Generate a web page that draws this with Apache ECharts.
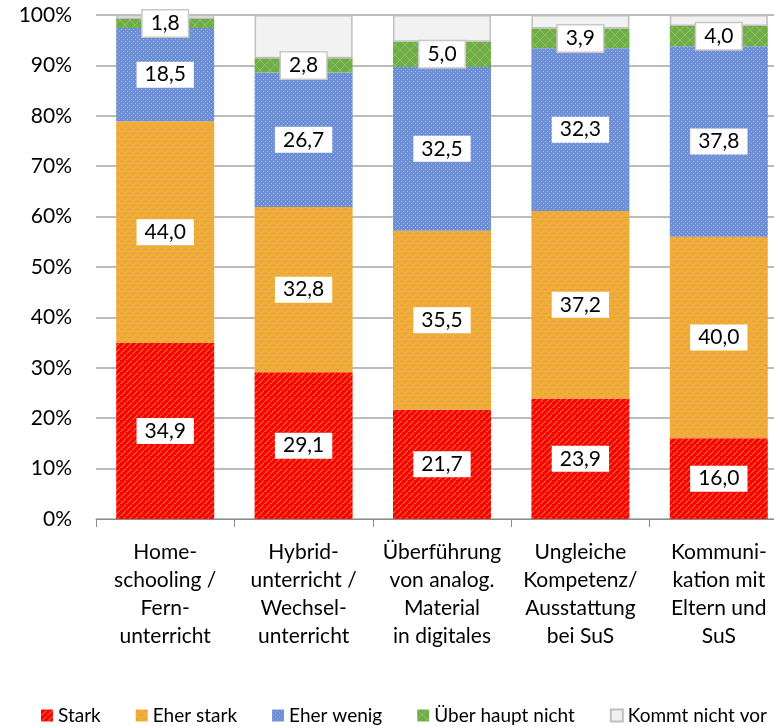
<!DOCTYPE html>
<html>
<head>
<meta charset="utf-8">
<script src="https://cdn.jsdelivr.net/npm/echarts@6/dist/echarts.min.js"></script>
<style>
  html, body { margin: 0; padding: 0; background: #fff; }
  #chart { width: 774px; height: 726px; }
</style>
</head>
<body>
<div id="chart"></div>
<script>
// Kategorien und Werte (in %)
const categories = [
  'Home-\nschooling /\nFern-\nunterricht',
  'Hybrid-\nunterricht /\nWechsel-\nunterricht',
  'Überführung\nvon analog.\nMaterial\nin digitales',
  'Ungleiche\nKompetenz/\nAusstattung\nbei SuS',
  'Kommuni-\nkation mit\nEltern und\nSuS'
];
const seriesNames = ['Stark', 'Eher stark', 'Eher wenig', 'Über haupt nicht', 'Kommt nicht vor'];
const stark = [34.9, 29.1, 21.7, 23.9, 16.0];
const eherStark = [44.0, 32.8, 35.5, 37.2, 40.0];
const eherWenig = [18.5, 26.7, 32.5, 32.3, 37.8];
const ueberhauptNicht = [1.8, 2.8, 5.0, 3.9, 4.0];
const kommtNichtVor = [0.8, 8.6, 5.3, 2.7, 2.2];
const yTicks = [0, 10, 20, 30, 40, 50, 60, 70, 80, 90, 100];

const FONT = 'Lato, "Open Sans", sans-serif';

// kleine Muster-Kacheln wie in Excel
function makePattern(size, draw) {
  const c = document.createElement('canvas');
  c.width = size; c.height = size;
  draw(c.getContext('2d'), size);
  return { image: c, repeat: 'repeat' };
}

const redPattern = makePattern(6, (g, s) => {
  g.fillStyle = '#ff0000';
  g.fillRect(0, 0, s, s);
  g.fillStyle = '#e8502a';
  for (let i = 0; i < s; i++) {
    g.fillRect(i, s - 1 - i, 2, 1);
  }
});
const orangePattern = makePattern(8, (g, s) => {
  g.fillStyle = '#eeb034';
  g.fillRect(0, 0, s, s);
  g.fillStyle = '#f28c62';
  g.fillRect(0, 1, 3, 1);
  g.fillRect(4, 5, 3, 1);
});
const bluePattern = makePattern(4, (g, s) => {
  g.fillStyle = '#6f8fd4';
  g.fillRect(0, 0, s, s);
  g.fillStyle = '#aab2c8';
  g.fillRect(1, 1, 1, 1);
  g.fillRect(3, 3, 1, 1);
});
const greenPattern = makePattern(10, (g, s) => {
  g.fillStyle = '#70ad47';
  g.fillRect(0, 0, s, s);
  g.fillStyle = '#8cc16a';
  for (let i = 0; i < s; i++) {
    g.fillRect(i, i, 1, 1);
    g.fillRect(i, s - 1 - i, 1, 1);
  }
});

const seriesData = [stark, eherStark, eherWenig, ueberhauptNicht, kommtNichtVor];
const fills = [redPattern, orangePattern, bluePattern, greenPattern, '#f2f2f2'];

const series = seriesData.map((vals, i) => ({
  name: seriesNames[i],
  type: 'bar',
  stack: 'total',
  barWidth: 98,
  data: vals,
  itemStyle: i === 4
    ? { color: fills[i], borderColor: '#bfbfbf', borderWidth: 1.5 }
    : { color: fills[i] },
  label: {
    show: i < 4,
    position: 'inside',
    formatter: p => p.value.toFixed(1).replace('.', ','),
    color: '#000',
    fontFamily: FONT,
    fontSize: 21,
    backgroundColor: '#fff',
    borderColor: i === 3 ? '#c8c8c8' : 'transparent',
    borderWidth: i === 3 ? 1.5 : 0,
    padding: [4, 8, 1, 8]
  },
  emphasis: { disabled: true }
}));

const chart = echarts.init(document.getElementById('chart'));
chart.setOption({
  animation: false,
  // Plotbereich ragt rechts über das Bild hinaus (wie im Original)
  grid: { left: 96, width: 692, top: 15, bottom: 207, containLabel: false, outerBoundsMode: 'none' },
  legend: {
    data: seriesNames,
    left: 36,
    top: 701,
    itemWidth: 12,
    itemHeight: 12,
    itemGap: 35,
    textStyle: { fontFamily: FONT, fontSize: 19, color: '#000' },
    icon: 'rect'
  },
  xAxis: {
    type: 'category',
    data: categories,
    axisLine: { lineStyle: { color: '#8c8c8c', width: 1 } },
    axisTick: { show: true, length: 8, lineStyle: { color: '#8c8c8c' } },
    axisLabel: {
      fontFamily: FONT,
      fontSize: 21,
      color: '#000',
      lineHeight: 28,
      margin: 19,
      interval: 0
    }
  },
  yAxis: {
    type: 'value',
    min: yTicks[0],
    max: yTicks[yTicks.length - 1],
    interval: 10,
    axisLine: { show: false },
    axisTick: { show: false },
    axisLabel: {
      formatter: '{value}%',
      fontFamily: FONT,
      fontSize: 21,
      color: '#000',
      margin: 24
    },
    splitLine: { lineStyle: { color: '#a6a6a6', width: 1.5 } }
  },
  series
});
</script>
</body>
</html>
